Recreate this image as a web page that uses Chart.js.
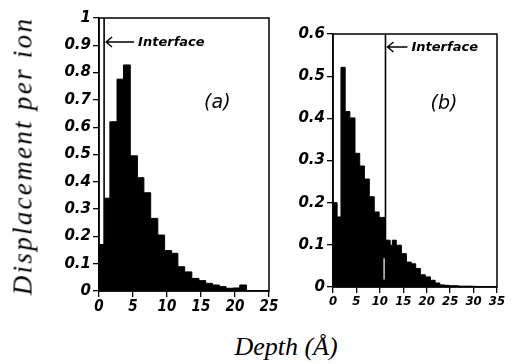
<!DOCTYPE html>
<html>
<head>
<meta charset="utf-8">
<script src="https://cdn.jsdelivr.net/npm/chart.js@4"></script>
<style>
  html, body { margin: 0; padding: 0; background: #fff; }
  #wrap { position: relative; width: 520px; height: 364px; overflow: hidden; background: #fff; }
  canvas { position: absolute; }
  #ca { left: 0; top: 0; }
  #cb { left: 280px; top: 0; }
  .ytitle { position: absolute; left: 23px; top: 156px; transform: translate(-50%, -50%) rotate(-90deg);
    font-family: "Liberation Serif"; font-style: italic; font-size: 27px; letter-spacing: 2.3px; white-space: nowrap; color: #000; }
  .xtitle { position: absolute; left: 286px; top: 347px; transform: translate(-50%, -50%);
    font-family: "Liberation Serif"; font-style: italic; font-size: 26px; white-space: nowrap; color: #000; }
</style>
</head>
<body>
<div id="wrap">
  <canvas id="ca" width="290" height="320"></canvas>
  <canvas id="cb" width="240" height="320"></canvas>
  <div class="ytitle">Displacement per ion</div>
  <div class="xtitle">Depth (Å)</div>
</div>
<script>
// ---- Panel (a) data: histogram bin left edges (Å) and displacement per ion ----
const depthEdgesA = [0, 0.85, 1.6, 2.65, 3.6, 4.6, 5.65, 6.6, 7.6, 8.65, 9.65, 10.7, 11.6, 12.6, 13.65, 14.7, 15.7, 16.7, 17.7, 18.7, 19.7, 20.7];
const depthEndA = 21.7;
const displacementA = [0.17, 0.34, 0.62, 0.776, 0.828, 0.495, 0.415, 0.36, 0.266, 0.205, 0.148, 0.138, 0.089, 0.07, 0.046, 0.038, 0.028, 0.022, 0.016, 0.01, 0.011, 0.022];
const interfaceA = 0.75;
const xTicksA = [0, 5, 10, 15, 20, 25];
const yTicksA = [0, 0.1, 0.2, 0.3, 0.4, 0.5, 0.6, 0.7, 0.8, 0.9, 1];

// ---- Panel (b) data ----
const depthEdgesB = [0, 0.88, 1.7, 2.6, 3.6, 4.7, 5.7, 6.7, 7.75, 8.8, 9.85, 11.2, 12.2, 12.67, 13.5, 14.6, 15.66, 16.7, 17.65, 18.65, 19.7, 20.8, 21.8, 22.8, 23.8, 24.8, 25.8, 26.8, 27.8, 28.8, 29.8, 30.8, 31.8, 32.8];
const depthEndB = 33.8;
const displacementB = [0.2, 0.166, 0.521, 0.416, 0.401, 0.317, 0.287, 0.256, 0.214, 0.178, 0.165, 0.111, 0.099, 0.111, 0.099, 0.079, 0.059, 0.055, 0.044, 0.029, 0.024, 0.016, 0.0095, 0.005, 0.004, 0.003, 0.003, 0.002, 0.002, 0.002, 0.0015, 0.001, 0.001, 0.001];
const interfaceB = 11.2;
const xTicksB = [0, 5, 10, 15, 20, 25, 30, 35];
const yTicksB = [0, 0.1, 0.2, 0.3, 0.4, 0.5, 0.6];

function histPoints(edges, vals, end) {
  const pts = edges.map((e, i) => ({ x: e, y: vals[i] }));
  pts.push({ x: end, y: 0 });
  return pts;
}

const notesPlugin = {
  id: 'notes',
  afterDatasetsDraw(chart, args, opts) {
    const { ctx, chartArea: ca } = chart;
    const xs = chart.scales.x, ys = chart.scales.y;
    ctx.save();
    // frame
    ctx.strokeStyle = '#000';
    ctx.lineWidth = 1.5;
    ctx.strokeRect(ca.left, ca.top, ca.right - ca.left, ca.bottom - ca.top);
    // arrow to interface
    const ix = xs.getPixelForValue(opts.iface);
    const ay = ca.top + opts.arrowDy;
    ctx.lineWidth = 1.4;
    ctx.beginPath();
    ctx.moveTo(ix + 2, ay);
    ctx.lineTo(ix + 2 + opts.arrowLen, ay);
    ctx.moveTo(ix + 8, ay - 5);
    ctx.lineTo(ix + 2, ay);
    ctx.lineTo(ix + 8, ay + 5);
    ctx.stroke();
    ctx.fillStyle = '#000';
    ctx.font = 'italic bold 13px "DejaVu Sans"';
    ctx.textBaseline = 'middle';
    ctx.textAlign = 'left';
    ctx.fillText('Interface', ix + opts.arrowLen + 6, ay + 1);
    ctx.font = 'italic 19px "DejaVu Sans"';
    ctx.textAlign = 'center';
    ctx.fillText(opts.label, xs.getPixelForValue(opts.labelX), ys.getPixelForValue(opts.labelY));
    ctx.restore();
  }
};

function makeChart(id, edges, vals, end, iface, ymax, xmax, xt, yt, cfg) {
  const ifaceData = [{ x: iface, y: 0 }, { x: iface, y: ymax }];
  const datasets = [
    { data: histPoints(edges, vals, end), stepped: true, fill: 'origin',
      backgroundColor: '#000', borderColor: '#000', borderWidth: 1, pointRadius: 0, order: 2 },
    { data: ifaceData, borderColor: '#000', borderWidth: 1.6, pointRadius: 0, fill: false, order: 1 }
  ];
  if (cfg.whiteGap) {
    datasets.push({ data: cfg.whiteGap, borderColor: '#fff', borderWidth: 1.2, pointRadius: 0, fill: false, order: 0 });
  }
  return new Chart(document.getElementById(id), {
    type: 'line',
    data: { datasets },
    options: {
      responsive: false, animation: false, events: [],
      layout: { padding: cfg.padding },
      plugins: { legend: { display: false }, tooltip: { enabled: false },
        notes: cfg.notes },
      scales: {
        x: { type: 'linear', min: 0, max: xmax,
          afterBuildTicks: s => { s.ticks = xt.map(v => ({ value: v })); },
          afterFit: s => { s.height = cfg.xh; },
          border: { color: '#000', width: 1.5 },
          grid: { drawOnChartArea: false, drawTicks: true, tickLength: 6, color: '#000', lineWidth: 1.3 },
          ticks: { color: '#000', padding: 1, maxRotation: 0, autoSkip: false,
            font: cfg.xfont, callback: v => String(v) } },
        y: { type: 'linear', min: 0, max: ymax,
          afterBuildTicks: s => { s.ticks = yt.map(v => ({ value: v })); },
          afterFit: s => { s.width = cfg.yw; },
          border: { color: '#000', width: 1.5 },
          grid: { drawOnChartArea: false, drawTicks: true, tickLength: 6, color: '#000', lineWidth: 1.3 },
          ticks: { color: '#000', padding: 2, autoSkip: false,
            font: cfg.yfont, callback: v => String(v) } }
      }
    },
    plugins: [notesPlugin]
  });
}

makeChart('ca', depthEdgesA, displacementA, depthEndA, interfaceA, 1, 25, xTicksA, yTicksA, {
  padding: { top: 18, right: 21, bottom: 0, left: 0 }, xh: 29, yw: 99,
  xfont: { family: 'DejaVu Sans Condensed', style: 'italic', weight: 'bold', size: 15 },
  yfont: { family: 'DejaVu Sans', style: 'italic', weight: 'bold', size: 15 },
  notes: { iface: interfaceA, arrowDy: 24, arrowLen: 28, label: '(a)', labelX: 17.4, labelY: 0.69 }
});

makeChart('cb', depthEdgesB, displacementB, depthEndB, interfaceB, 0.6, 35, xTicksB, yTicksB, {
  padding: { top: 34, right: 23, bottom: 0, left: 0 }, xh: 33, yw: 53,
  xfont: { family: 'DejaVu Sans Condensed', style: 'italic', weight: 'bold', size: 13 },
  yfont: { family: 'DejaVu Sans', style: 'italic', weight: 'bold', size: 15 },
  whiteGap: [{ x: 10.9, y: 0.018 }, { x: 10.9, y: 0.068 }],
  notes: { iface: interfaceB, arrowDy: 13, arrowLen: 20, label: '(b)', labelX: 23.7, labelY: 0.435 }
});
</script>
</body>
</html>
